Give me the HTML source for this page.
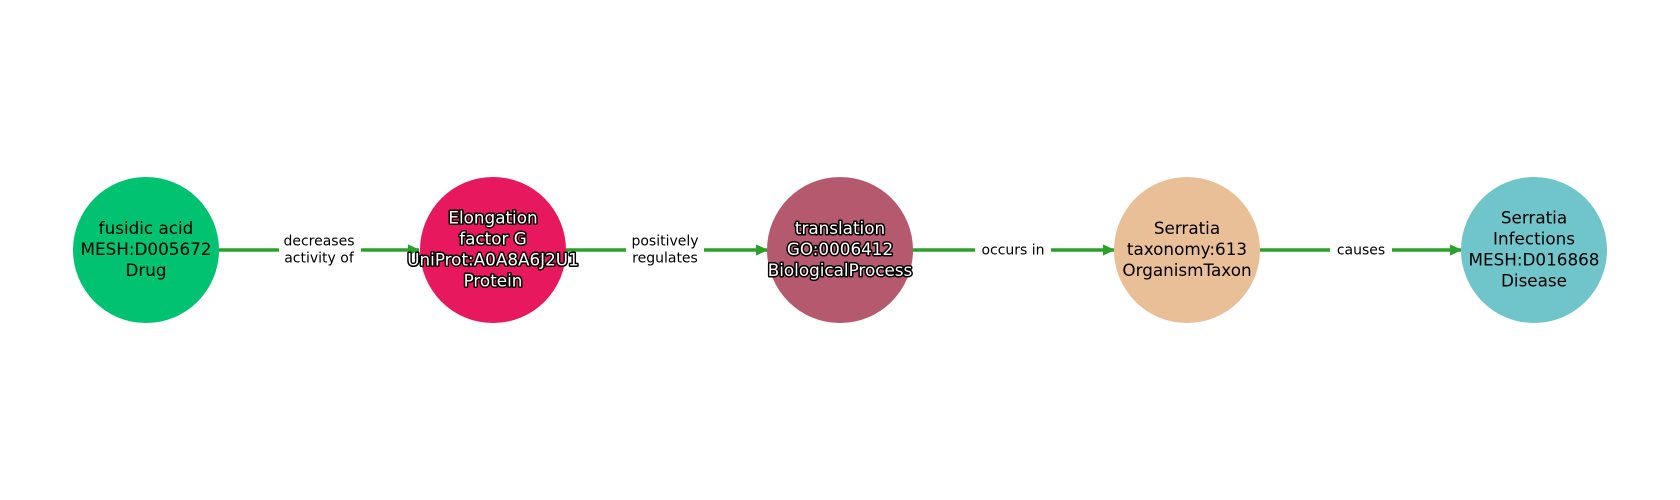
<!DOCTYPE html>
<html><head><meta charset="utf-8"><style>
html,body{margin:0;padding:0;background:#fff;}
svg{display:block;}
text{font-family:"DejaVu Sans","Liberation Sans",sans-serif;}
.n{font-size:16.8px;text-anchor:middle;fill:#000;}
.o{font-size:16.8px;text-anchor:middle;fill:#fff;stroke:#000;stroke-width:3px;paint-order:stroke;stroke-linejoin:round;}
.e{font-size:14px;text-anchor:middle;fill:#000;}
</style></head><body>
<svg width="1680" height="500" viewBox="0 0 1680 500" xmlns="http://www.w3.org/2000/svg">
<defs><marker id="a" markerWidth="12" markerHeight="12" refX="11" refY="6" orient="auto" markerUnits="userSpaceOnUse"><path d="M0,1 L11,6 L0,11 Z" fill="#2ca02c" stroke="#2ca02c" stroke-width="1" stroke-linejoin="round"/></marker></defs>
<g stroke="#2ca02c" stroke-width="3.5" fill="none">
<line x1="219" y1="250" x2="419" y2="250" marker-end="url(#a)"/>
<line x1="566" y1="250" x2="767" y2="250" marker-end="url(#a)"/>
<line x1="913" y1="250" x2="1114" y2="250" marker-end="url(#a)"/>
<line x1="1260" y1="250" x2="1461" y2="250" marker-end="url(#a)"/>
</g>
<g fill="#fff">
<rect x="279" y="230" width="82" height="40"/>
<rect x="626" y="230" width="78" height="40"/>
<rect x="975" y="240" width="76" height="20"/>
<rect x="1330" y="240" width="62" height="20"/>
</g>
<text class="e" x="319" y="245.5">decreases</text><text class="e" x="319" y="262.5">activity of</text>
<text class="e" x="665" y="245.5">positively</text><text class="e" x="665" y="262.5">regulates</text>
<text class="e" x="1013" y="254.5">occurs in</text>
<text class="e" x="1361" y="254.5">causes</text>
<circle cx="146" cy="250" r="73" fill="#00c270"/>
<circle cx="493" cy="250" r="73" fill="#e8185f"/>
<circle cx="840" cy="250" r="73" fill="#b5596e"/>
<circle cx="1187" cy="250" r="73" fill="#e9bf97"/>
<circle cx="1534" cy="250" r="73" fill="#70c5ca"/>
<text class="n" x="146" y="234">fusidic acid</text>
<text class="n" x="146" y="255">MESH:D005672</text>
<text class="n" x="146" y="276">Drug</text>
<text class="o" x="493" y="223.5">Elongation</text>
<text class="o" x="493" y="244.5">factor G</text>
<text class="o" x="493" y="265.5">UniProt:A0A8A6J2U1</text>
<text class="o" x="493" y="286.5">Protein</text>
<text class="o" x="840" y="234">translation</text>
<text class="o" x="840" y="255">GO:0006412</text>
<text class="o" x="840" y="276">BiologicalProcess</text>
<text class="n" x="1187" y="234">Serratia</text>
<text class="n" x="1187" y="255">taxonomy:613</text>
<text class="n" x="1187" y="276">OrganismTaxon</text>
<text class="n" x="1534" y="223.5">Serratia</text>
<text class="n" x="1534" y="244.5">Infections</text>
<text class="n" x="1534" y="265.5">MESH:D016868</text>
<text class="n" x="1534" y="286.5">Disease</text>
</svg>
</body></html>
